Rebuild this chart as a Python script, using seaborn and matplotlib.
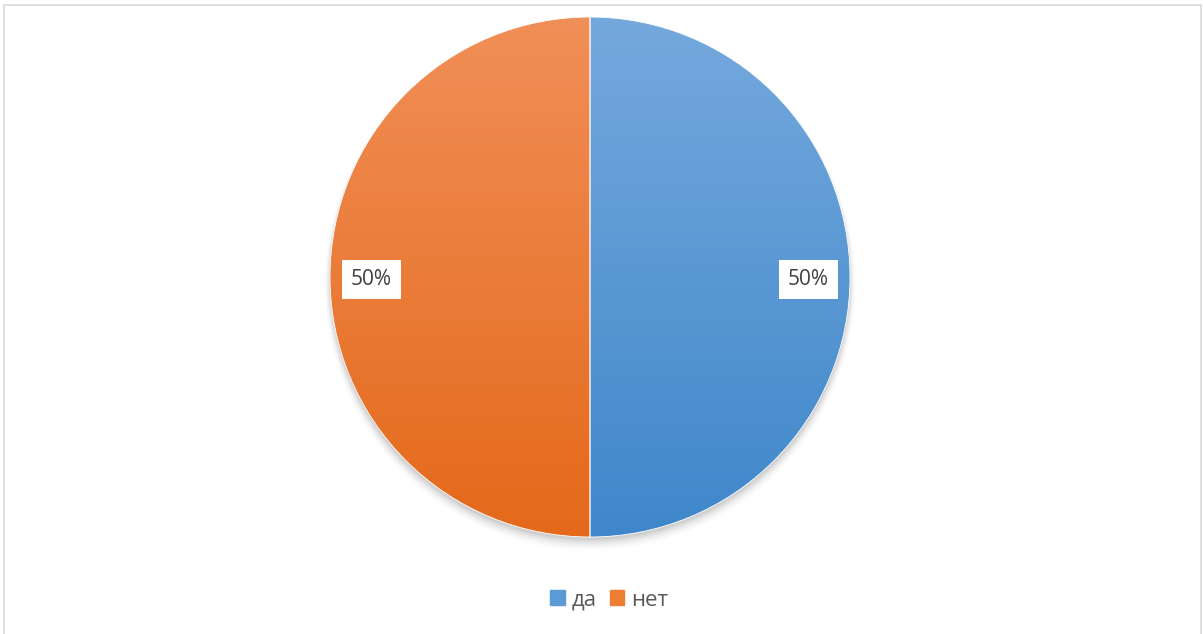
import matplotlib
matplotlib.use('agg')
import matplotlib.pyplot as plt
import matplotlib.patches as mpatches
import numpy as np
import seaborn as sns

# Data
categories = ['да', 'нет']
values = [50, 50]
top_colors = ['#75a9dd', '#f18f58']
bottom_colors = ['#3f87ca', '#e4691a']
legend_colors = ['#5b9bd5', '#ed7d31']

sns.set_theme(style='white')
plt.rcParams['font.family'] = ['Open Sans', 'DejaVu Sans']

fig = plt.figure(figsize=(12.03, 6.34), dpi=100)
W, H = 1203, 634
cx, cy, r = 590, 634 - 277, 260
ax = fig.add_axes([(cx - r) / W, (cy - r) / H, 2 * r / W, 2 * r / H])

# frame around the chart area (bottom edge falls outside the image)
fig.patches.append(mpatches.Rectangle((4 / W, -0.01), (1201 - 4) / W, (634 - 5) / H + 0.01,
                                      transform=fig.transFigure, fill=False,
                                      edgecolor='#d9d9d9', linewidth=1.2))

# soft shadow under the pie
for i, a in enumerate(np.linspace(0.05, 0.01, 6)):
    ax.add_patch(mpatches.Circle((0, -0.012 - 0.004 * i), 1.0 + 0.004 * i,
                                 color='black', alpha=a, lw=0, zorder=0, clip_on=False))

wedges, texts = ax.pie(values, startangle=90, counterclock=False,
                       colors=legend_colors, radius=1.0,
                       wedgeprops=dict(edgecolor='white', linewidth=0.6))

# vertical gradient fill clipped to each wedge
for w, c_top, c_bot in zip(wedges, top_colors, bottom_colors):
    t = np.array(matplotlib.colors.to_rgb(c_top))
    b = np.array(matplotlib.colors.to_rgb(c_bot))
    grad = np.linspace(0, 1, 256)[:, None, None]
    img = t * (1 - grad) + b * grad
    img = np.repeat(img, 2, axis=1)
    im = ax.imshow(img, extent=[-1, 1, -1, 1], origin='upper', aspect='auto', zorder=1.5)
    im.set_clip_path(w)
    w.set_zorder(2)
    w.set_facecolor('none')
    w.set_clip_on(False)

# percentage labels
total = sum(values)
for w, v in zip(wedges, values):
    ang = np.deg2rad((w.theta1 + w.theta2) / 2)
    x, y = 0.84 * np.cos(ang), 0.84 * np.sin(ang) - 0.01
    ax.text(x, y, f'{v / total * 100:.0f}%', ha='center', va='center',
            fontsize=15, color='#404040', zorder=5,
            bbox=dict(boxstyle='square,pad=0.45', facecolor='white', edgecolor='none'))

ax.set_xlim(-1, 1)
ax.set_ylim(-1, 1)
ax.set_aspect('equal')
ax.axis('off')

handles = [mpatches.Patch(color=c, label=l) for c, l in zip(legend_colors, categories)]
fig.legend(handles=handles, loc='center', bbox_to_anchor=(609 / W, 1 - 600 / H),
           ncol=2, frameon=False, fontsize=16, handlelength=0.65, handleheight=0.65,
           handletextpad=0.3, columnspacing=0.6, labelcolor='#595959')

fig.savefig('out.png', dpi=100)
